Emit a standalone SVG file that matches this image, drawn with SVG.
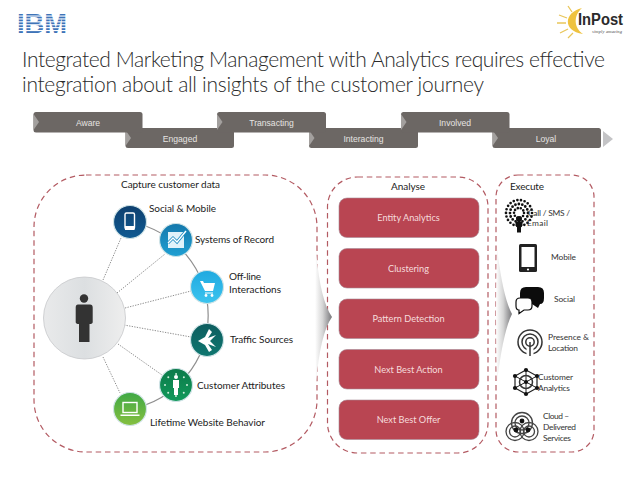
<svg xmlns="http://www.w3.org/2000/svg" width="638" height="479" viewBox="0 0 638 479">
<style>
.t{font-family:"Lato","Carlito","Liberation Sans",sans-serif;fill:#1c1c1c}
.title{font-size:21px;fill:#2a2a2a;font-weight:300}
.lab{font-size:10px}
.sm{font-size:8.4px;fill:#333}
.stage{font-family:"Liberation Sans",Arial,sans-serif;font-size:8.6px;fill:#e6e4e2;text-anchor:middle}
.box{fill:#b94552;stroke:#a58a96;stroke-width:.6}
.btx{font-family:"Lato","Liberation Sans",sans-serif;font-size:9.2px;fill:#f6dcdc;text-anchor:middle}
.panel{fill:none;stroke:#b35a62;stroke-width:1.2;stroke-dasharray:5.5 3.8}
.body{fill:#6c6764}
.bev{fill:#a3a09e}
.dot{fill:none;stroke:#8e8e8e;stroke-width:1;stroke-dasharray:1.3 1.3}
.halo{stroke:#cfe3e6;stroke-width:1.2}
.wi{fill:#fff}
.wl{fill:none;stroke:#fff;stroke-width:1.4}
.ko{fill:none;stroke:#333;stroke-width:1.5}
</style>
<defs>
<linearGradient id="ch" x1="0" y1="0" x2="1" y2="0"><stop offset="0" stop-color="#fff"/><stop offset=".45" stop-color="#d5d5d5"/><stop offset="1" stop-color="#77777a"/></linearGradient>
<linearGradient id="big" x1="0" y1="0" x2="1" y2="0"><stop offset="0" stop-color="#e9eaeb"/><stop offset=".5" stop-color="#dcdfe1"/><stop offset="1" stop-color="#eeeeee"/></linearGradient>
<linearGradient id="g1" x1="0" y1="0" x2="0" y2="1"><stop offset="0" stop-color="#0e3f6e"/><stop offset="1" stop-color="#0f5a92"/></linearGradient>
<linearGradient id="g2" x1="0" y1="0" x2="0" y2="1"><stop offset="0" stop-color="#1478ac"/><stop offset="1" stop-color="#1f9fd2"/></linearGradient>
<linearGradient id="g3" x1="0" y1="0" x2="0" y2="1"><stop offset="0" stop-color="#1fa9e0"/><stop offset="1" stop-color="#3cc4ef"/></linearGradient>
<linearGradient id="g4" x1="0" y1="0" x2="0" y2="1"><stop offset="0" stop-color="#0d5d5f"/><stop offset="1" stop-color="#0f7770"/></linearGradient>
<linearGradient id="g5" x1="0" y1="0" x2="0" y2="1"><stop offset="0" stop-color="#0c7a4a"/><stop offset="1" stop-color="#119a5b"/></linearGradient>
<linearGradient id="g6" x1="0" y1="0" x2="0" y2="1"><stop offset="0" stop-color="#3fa845"/><stop offset="1" stop-color="#86c040"/></linearGradient>
</defs>
<rect width="638" height="479" fill="#fff"/>

<g id="logo-ibm">
<text x="17" y="33" font-family="Liberation Sans,sans-serif" font-weight="700" font-size="27" fill="#3f74b8" textLength="50" lengthAdjust="spacingAndGlyphs">IBM</text>
<g fill="#fff"><rect x="15" y="15.500" width="54" height="1.100"/><rect x="15" y="18.400" width="54" height="1.100"/><rect x="15" y="21.300" width="54" height="1.100"/><rect x="15" y="24.200" width="54" height="1.100"/><rect x="15" y="27.100" width="54" height="1.100"/><rect x="15" y="30" width="54" height="1.100"/></g>
</g>
<g id="logo-inpost">
<path d="M582 8C564 12 562 31 583 34C574 28 573 16 582 8Z" fill="#efc23f"/>
<g stroke="#e9c65a" stroke-width="1.300"><path d="M572 12L568 6M567 18L559 15M566 23L557 23M568 29L560 33M573 33L568 38"/></g>
<text x="578" y="25" font-family="Liberation Sans,sans-serif" font-weight="700" font-size="16" fill="#2b2b2b" textLength="45" lengthAdjust="spacingAndGlyphs">InPost</text>
<text x="592" y="33" font-family="Liberation Serif,serif" font-style="italic" font-size="4.500" fill="#444" textLength="30">simply amazing</text>
</g>

<g id="title">
<text class="t title" x="22" y="67" textLength="583" lengthAdjust="spacing">Integrated Marketing Management with Analytics requires effective</text>
<text class="t title" x="22" y="92" textLength="462" lengthAdjust="spacing">integration about all insights of the customer journey</text>
</g>

<g id="stage-engaged"><rect class="body" x="125.500" y="128" width="108.500" height="20" rx="2.500"/><path class="bev" d="M125.500 130L131 138L125.500 146Z"/><text class="stage" x="180" y="142">Engaged</text></g>
<g id="stage-interacting"><rect class="body" x="309" y="128" width="109" height="20" rx="2.500"/><path class="bev" d="M309 130L314.500 138L309 146Z"/><text class="stage" x="363.500" y="142">Interacting</text></g>
<g id="stage-loyal"><rect class="body" x="492.500" y="128" width="108.500" height="20" rx="2.500"/><path class="bev" d="M492.500 130L498 138L492.500 146Z"/><text class="stage" x="546" y="142">Loyal</text><path d="M603 131L613 139L603 147Z" fill="#c4c4c6"/></g>
<g id="stage-aware"><rect class="body" x="33.500" y="112" width="109" height="20.500" rx="2.500"/><path class="bev" d="M33.500 114L39 122L33.500 130Z"/><text class="stage" x="88" y="126">Aware</text></g>
<g id="stage-transacting"><rect class="body" x="217" y="112" width="109" height="20.500" rx="2.500"/><path class="bev" d="M217 114L222.500 122L217 130Z"/><text class="stage" x="271.500" y="126">Transacting</text></g>
<g id="stage-involved"><rect class="body" x="401" y="112" width="108.500" height="20.500" rx="2.500"/><path class="bev" d="M401 114L406.500 122L401 130Z"/><text class="stage" x="455" y="126">Involved</text></g>

<g id="panel-capture"><rect class="panel" x="34" y="175" width="283" height="277" rx="52"/><text class="t lab" x="170.500" y="188" text-anchor="middle" textLength="99" lengthAdjust="spacing">Capture customer data</text></g>
<g id="panel-analyse"><rect class="panel" x="327.500" y="177" width="160.500" height="276" rx="30"/><text class="t lab" x="408" y="190" text-anchor="middle" textLength="34">Analyse</text></g>
<g id="panel-execute"><rect class="panel" x="496" y="175" width="98" height="277" rx="22"/><text class="t lab" x="510" y="190" textLength="34">Execute</text></g>

<path id="flow-1" d="M316 250Q320 300 332 317Q320 334 316 384Q314 317 316 250Z" fill="url(#ch)"/>
<path id="flow-2" d="M497 248Q503 298 512 314Q503 332 497 382Q495 315 497 248Z" fill="url(#ch)"/>

<g id="connectors">
<path d="M130 222A95 95 0 0 1 130 409" fill="none" stroke="#8f8f8f" stroke-width="1.200"/>
<path class="dot" d="M103 280L121 238M117 293L165 254M125 308L191 291M124 325L191 337M118 344L162 375M103 357L120 393"/>
</g>

<g id="node-person"><circle cx="84.500" cy="318" r="41" fill="url(#big)" stroke="#c6c8ca" stroke-width=".8"/><circle cx="84" cy="298.500" r="4.200" fill="#333"/><path d="M78 304.500H90Q92.700 304.500 92.700 307.500V322Q92.700 324 89.500 324V342H79V324Q75.700 324 75.700 322V307.500Q75.700 304.500 78 304.500Z" fill="#333"/></g>

<g id="node-social"><circle class="halo" cx="130" cy="222" r="16.500" fill="url(#g1)"/><rect class="wl" x="125" y="213" width="9.500" height="16" rx="1.500"/><path class="wi" d="M125 226H134.500V230H125Z"/></g>
<text class="t lab" x="149" y="212" textLength="67">Social &amp; Mobile</text>
<g id="node-systems"><circle class="halo" cx="176" cy="240" r="16.500" fill="url(#g2)"/><rect x="168" y="232" width="16" height="16" fill="#dff2fa"/><path d="M168 243L173 238L177 242L186 231" fill="none" stroke="#1b8cc2" stroke-width="3"/><path d="M168 243L173 238L177 242L186 231" fill="none" stroke="#fff" stroke-width="1.400"/></g>
<text class="t lab" x="195" y="243" textLength="79">Systems of Record</text>
<g id="node-offline"><circle class="halo" cx="207" cy="287" r="16.500" fill="url(#g3)"/><path class="wi" d="M200 281L203 281L204 283H215L213 291H205ZM205 292.500H213V293.500H205Z"/><circle class="wi" cx="206" cy="295.500" r="1.400"/><circle class="wi" cx="212" cy="295.500" r="1.400"/></g>
<text class="t lab" x="229" y="280" textLength="32">Off-line</text>
<text class="t lab" x="229" y="293" textLength="52">Interactions</text>
<g id="node-traffic"><circle class="halo" cx="207" cy="340" r="16.500" fill="url(#g4)"/><path class="wi" d="M198 341L205 337L209 329L212 332L208 338L216 335L210 341L216 347L208 344L212 350L209 352L205 345Z"/></g>
<text class="t lab" x="230" y="343" textLength="63">Traffic Sources</text>
<g id="node-customer"><circle class="halo" cx="176" cy="385" r="16.500" fill="url(#g5)"/><circle class="wi" cx="176" cy="377" r="2"/><path class="wi" d="M173 380H179V388H178V395H174V388H173Z"/><circle cx="176" cy="385" r="11" fill="none" stroke="#cfeedd" stroke-width="2" stroke-linecap="round" stroke-dasharray="0 8.600"/></g>
<text class="t lab" x="197" y="389" textLength="88">Customer Attributes</text>
<g id="node-lifetime"><circle class="halo" cx="130" cy="409" r="16.500" fill="url(#g6)"/><rect class="wl" x="123" y="402.500" width="14" height="10"/><path class="wi" d="M120.500 414.500H139.500V416H120.500Z"/></g>
<text class="t lab" x="150" y="426" textLength="115">Lifetime Website Behavior</text>

<g id="node-entity"><rect class="box" x="339" y="198" width="140" height="39.500" rx="8"/><text class="btx" x="408.500" y="221">Entity Analytics</text></g>
<g id="node-clustering"><rect class="box" x="339" y="248.500" width="140" height="39.500" rx="8"/><text class="btx" x="408.500" y="272">Clustering</text></g>
<g id="node-pattern"><rect class="box" x="339" y="299" width="140" height="39.500" rx="8"/><text class="btx" x="408.500" y="322">Pattern Detection</text></g>
<g id="node-action"><rect class="box" x="339" y="349.500" width="140" height="39.500" rx="8"/><text class="btx" x="408.500" y="373">Next Best Action</text></g>
<g id="node-offer"><rect class="box" x="339" y="400" width="140" height="39.500" rx="8"/><text class="btx" x="408.500" y="423">Next Best Offer</text></g>

<g id="node-call">
<circle cx="519" cy="213" r="13" fill="none" stroke="#111" stroke-width="2.700" stroke-linecap="round" stroke-dasharray="0 3.700"/>
<circle cx="519" cy="213" r="9" fill="none" stroke="#111" stroke-width="2.800" stroke-linecap="round" stroke-dasharray="0 3.500"/>
<circle cx="519" cy="213" r="5" fill="none" stroke="#111" stroke-width="2.600" stroke-linecap="round" stroke-dasharray="0 3.100"/>
<circle cx="519" cy="219" r="3" fill="#111"/><path d="M515.500 222H522.500V226H521V232.500H517V226H515.500Z" fill="#111"/>
<text class="t sm" x="528" y="216" textLength="42">Call / SMS /</text><text class="t sm" x="527" y="226" textLength="21">Email</text>
</g>
<g id="node-mobile"><rect x="519" y="244" width="18" height="28" rx="1.500" fill="#222"/><rect x="521.500" y="247" width="13" height="20" fill="#fff"/><circle cx="528" cy="269.500" r="1.100" fill="#fff"/><text class="t sm" x="551" y="260" textLength="25">Mobile</text></g>
<g id="node-social-exec"><path d="M526 287H538Q544 287 544 293V298Q544 304 540 304L538 308L532 304H527Q520 304 520 298V293Q520 287 526 287Z" fill="#0c0c0c"/><path d="M520 298H528Q532 298 532 302V306Q532 310 528 310H524L519 313.500V310Q516 310 516 306V302Q516 298 520 298Z" fill="#fff" stroke="#0c0c0c" stroke-width="1.200"/><text class="t sm" x="554" y="302" textLength="21">Social</text></g>
<g id="node-presence"><circle class="ko" cx="530" cy="342" r="12" stroke-width="2.600"/><circle class="ko" cx="530" cy="342" r="8" stroke-width="2"/><circle class="ko" cx="530" cy="342" r="4.200" stroke-width="1.600"/><rect x="526.500" y="348" width="7" height="9" fill="#fff"/><path d="M530 342V356" stroke="#333" stroke-width="1.500"/><text class="t sm" x="548" y="340" textLength="41">Presence &amp;</text><text class="t sm" x="548" y="351" textLength="30">Location</text></g>
<g id="node-analytics">
<path d="M526 370L537 376V388L526 394L515 388V376Z" fill="none" stroke="#222" stroke-width="1.200"/>
<path d="M526 370V394M515 376L537 388M537 376L515 388" stroke="#222" stroke-width="1"/>
<circle class="ko" cx="526" cy="382" r="6.500"/>
<g fill="#111"><circle cx="526" cy="370" r="2.100"/><circle cx="537" cy="376" r="2.100"/><circle cx="537" cy="388" r="2.100"/><circle cx="526" cy="394" r="2.100"/><circle cx="515" cy="388" r="2.100"/><circle cx="515" cy="376" r="2.100"/><circle cx="526" cy="382" r="2.100"/></g>
<text class="t sm" x="538" y="380" textLength="35">Customer</text><text class="t sm" x="538" y="391" textLength="32">Analytics</text>
</g>
<g id="node-cloud">
<g fill="none" stroke="#444" stroke-width="1.300"><circle cx="522" cy="423" r="10.500"/><circle cx="515" cy="431.500" r="9"/><circle cx="529" cy="431.500" r="9"/><circle cx="522" cy="423" r="7"/><circle cx="515" cy="431.500" r="5.500"/><circle cx="529" cy="431.500" r="5.500"/></g>
<g fill="#111"><circle cx="522" cy="421" r="2.400"/><circle cx="516" cy="430" r="2.400"/><circle cx="528" cy="430" r="2.400"/></g>
<text class="t sm" x="543" y="419" textLength="26">Cloud –</text><text class="t sm" x="543" y="430" textLength="33">Delivered</text><text class="t sm" x="543" y="441" textLength="28">Services</text>
</g>
</svg>
